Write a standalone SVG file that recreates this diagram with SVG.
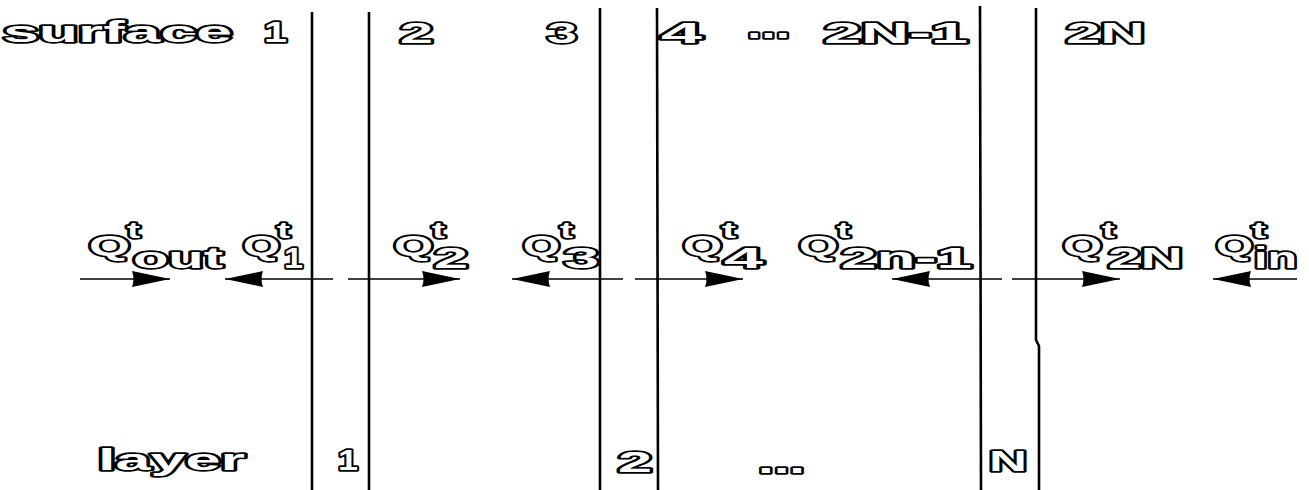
<svg xmlns="http://www.w3.org/2000/svg" width="1309" height="490" viewBox="0 0 1309 490">
<style>
.t{font-family:"Liberation Sans",Arial,sans-serif;font-weight:bold;fill:#fff;stroke:#000;stroke-width:3.4;stroke-linejoin:round;paint-order:stroke;font-size:29px}
.sup{font-size:22px}
.q{font-size:27px}
.dots{font-size:34px}
.wall{stroke:#000;stroke-width:2.6;fill:none}
.flow{stroke:#000;stroke-width:1.6;fill:none}
</style>
<defs>
<marker id="ah" markerUnits="userSpaceOnUse" markerWidth="40" markerHeight="18" viewBox="0 0 40 18" refX="38" refY="9" orient="auto">
<path d="M0,1 L38,9 L0,17 Q3,9 0,1 Z" fill="#000"/>
</marker>
</defs>
<rect width="1309" height="490" fill="#fff"/>

<g id="surfaces">
<line class="wall" x1="312" y1="12" x2="312" y2="490"/>
<line class="wall" x1="369" y1="12" x2="369" y2="490"/>
<line class="wall" x1="600" y1="8" x2="600" y2="490"/>
<line class="wall" x1="657" y1="8" x2="658" y2="490"/>
<line class="wall" x1="980" y1="6" x2="981" y2="490"/>
<polyline class="wall" points="1036,8 1036,340 1039,346 1039,490"/>
</g>

<g id="connectors">
<line class="flow" x1="80" y1="279" x2="170" y2="279" marker-end="url(#ah)"/>
<line class="flow" x1="333" y1="279" x2="225" y2="279" marker-end="url(#ah)"/>
<line class="flow" x1="348" y1="279" x2="460" y2="279" marker-end="url(#ah)"/>
<line class="flow" x1="623" y1="279" x2="512" y2="279" marker-end="url(#ah)"/>
<line class="flow" x1="635" y1="279" x2="743" y2="279" marker-end="url(#ah)"/>
<line class="flow" x1="1002" y1="279" x2="892" y2="279" marker-end="url(#ah)"/>
<line class="flow" x1="1012" y1="279" x2="1120" y2="279" marker-end="url(#ah)"/>
<line class="flow" x1="1297" y1="279" x2="1213" y2="279" marker-end="url(#ah)"/>
</g>

<g id="surface-labels">
<text class="t" x="3" y="42" textLength="229" lengthAdjust="spacingAndGlyphs">surface</text>
<text class="t" x="264" y="42" textLength="23" lengthAdjust="spacingAndGlyphs">1</text>
<text class="t" x="400" y="43" textLength="33" lengthAdjust="spacingAndGlyphs">2</text>
<text class="t" x="547" y="43" textLength="30" lengthAdjust="spacingAndGlyphs">3</text>
<text class="t" x="661" y="43" textLength="41" lengthAdjust="spacingAndGlyphs">4</text>
<text class="t dots" x="747" y="38" textLength="43" lengthAdjust="spacingAndGlyphs">...</text>
<text class="t" x="824" y="43" textLength="144" lengthAdjust="spacingAndGlyphs">2N-1</text>
<text class="t" x="1066" y="43" textLength="79" lengthAdjust="spacingAndGlyphs">2N</text>
</g>

<g id="q-out">
<text class="t q" x="89" y="255" textLength="41" lengthAdjust="spacingAndGlyphs">Q</text>
<text class="t sup" x="127" y="238" textLength="13" lengthAdjust="spacingAndGlyphs">t</text>
<text class="t" x="133" y="268" textLength="90" lengthAdjust="spacingAndGlyphs">out</text>
</g>
<g id="q-1">
<text class="t q" x="243" y="255" textLength="37" lengthAdjust="spacingAndGlyphs">Q</text>
<text class="t sup" x="277" y="238" textLength="13" lengthAdjust="spacingAndGlyphs">t</text>
<text class="t" x="284" y="268" textLength="19" lengthAdjust="spacingAndGlyphs">1</text>
</g>
<g id="q-2">
<text class="t q" x="394" y="255" textLength="39" lengthAdjust="spacingAndGlyphs">Q</text>
<text class="t sup" x="432" y="238" textLength="13" lengthAdjust="spacingAndGlyphs">t</text>
<text class="t" x="434" y="268" textLength="34" lengthAdjust="spacingAndGlyphs">2</text>
</g>
<g id="q-3">
<text class="t q" x="523" y="255" textLength="37" lengthAdjust="spacingAndGlyphs">Q</text>
<text class="t sup" x="560" y="238" textLength="13" lengthAdjust="spacingAndGlyphs">t</text>
<text class="t" x="564" y="268" textLength="35" lengthAdjust="spacingAndGlyphs">3</text>
</g>
<g id="q-4">
<text class="t q" x="683" y="255" textLength="39" lengthAdjust="spacingAndGlyphs">Q</text>
<text class="t sup" x="722" y="238" textLength="14" lengthAdjust="spacingAndGlyphs">t</text>
<text class="t" x="724" y="268" textLength="39" lengthAdjust="spacingAndGlyphs">4</text>
</g>
<g id="q-2n-1">
<text class="t q" x="799" y="255" textLength="39" lengthAdjust="spacingAndGlyphs">Q</text>
<text class="t sup" x="837" y="238" textLength="13" lengthAdjust="spacingAndGlyphs">t</text>
<text class="t" x="841" y="268" textLength="131" lengthAdjust="spacingAndGlyphs">2n-1</text>
</g>
<g id="q-2N">
<text class="t q" x="1063" y="255" textLength="39" lengthAdjust="spacingAndGlyphs">Q</text>
<text class="t sup" x="1102" y="238" textLength="13" lengthAdjust="spacingAndGlyphs">t</text>
<text class="t" x="1108" y="268" textLength="75" lengthAdjust="spacingAndGlyphs">2N</text>
</g>
<g id="q-in">
<text class="t q" x="1216" y="255" textLength="37" lengthAdjust="spacingAndGlyphs">Q</text>
<text class="t sup" x="1252" y="238" textLength="14" lengthAdjust="spacingAndGlyphs">t</text>
<text class="t" x="1254" y="268" textLength="43" lengthAdjust="spacingAndGlyphs">in</text>
</g>

<g id="layer-labels">
<text class="t" x="98" y="470" textLength="147" lengthAdjust="spacingAndGlyphs">layer</text>
<text class="t" x="338" y="470" textLength="20" lengthAdjust="spacingAndGlyphs">1</text>
<text class="t" x="618" y="472" textLength="34" lengthAdjust="spacingAndGlyphs">2</text>
<text class="t dots" x="758" y="473" textLength="47" lengthAdjust="spacingAndGlyphs">...</text>
<text class="t" x="989" y="471" textLength="38" lengthAdjust="spacingAndGlyphs">N</text>
</g>
</svg>
